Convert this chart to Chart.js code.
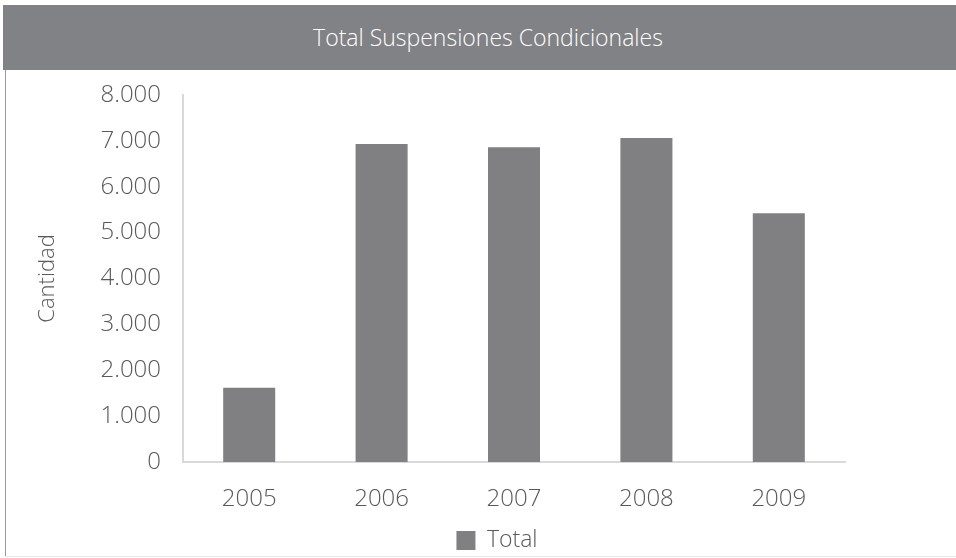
<!DOCTYPE html>
<html>
<head>
<meta charset="utf-8">
<script src="https://cdn.jsdelivr.net/npm/chart.js@4"></script>
<style>
  html, body { margin: 0; padding: 0; background: #fff; }
  body { width: 956px; height: 558px; position: relative; overflow: hidden; font-family: "Open Sans", sans-serif; }
  #titlebar { position: absolute; left: 3px; top: 5px; width: 936px; padding-left: 17px; height: 65px; background: #818285; color: #fff;
    font-family: "Open Sans", sans-serif; font-weight: 300; font-size: 23px; line-height: 64px; text-align: center; }
  #leftborder { position: absolute; left: 5px; top: 70px; width: 1px; height: 487px; background: #9a9a9a; }
  #bottomborder { position: absolute; left: 5px; top: 556px; width: 951px; height: 1px; background: #e6e6e6; }
  #wrap { position: absolute; left: 6px; top: 70px; width: 950px; height: 486px; }
</style>
</head>
<body>
<div id="titlebar">Total Suspensiones Condicionales</div>
<div id="leftborder"></div>
<div id="bottomborder"></div>
<div id="wrap"><canvas id="c"></canvas></div>
<script>
const categories = ["2005", "2006", "2007", "2008", "2009"];
const totalValues = [1620, 6930, 6860, 7060, 5420];
const seriesName = "Total";
const yAxisTitle = "Cantidad";

const fmt = v => v.toLocaleString('de-DE');
const textColor = '#595959';

const legendShift = {
  id: 'legendShift',
  afterLayout(chart) {
    const lg = chart.legend;
    if (!lg) return;
    lg.left += 57; lg.right += 57;
    lg.top += 6; lg.bottom += 6;
  }
};

new Chart(document.getElementById('c'), {
  type: 'bar',
  data: {
    labels: categories,
    datasets: [{
      label: seriesName,
      data: totalValues,
      backgroundColor: '#808083',
      borderWidth: 0,
      categoryPercentage: 1,
      barPercentage: 0.393
    }]
  },
  plugins: [legendShift],
  options: {
    responsive: true,
    maintainAspectRatio: false,
    animation: false,
    layout: { padding: { top: 25, right: 111, left: 29, bottom: 0 } },
    plugins: {
      title: { display: false },
      tooltip: { enabled: false },
      legend: {
        position: 'bottom',
        labels: {
          color: textColor,
          font: { family: 'Open Sans', size: 23, weight: 300 },
          boxWidth: 19,
          boxHeight: 19,
          padding: 3
        }
      }
    },
    scales: {
      x: {
        grid: { display: false, drawTicks: false },
        border: { display: true, color: '#d9d9d9', width: 2 },
        ticks: { color: textColor, font: { family: 'Open Sans', size: 24, weight: 300 }, padding: 23 },
        afterFit: s => { s.height = 58; }
      },
      y: {
        min: 0,
        max: 8000,
        grid: { display: false, drawTicks: false },
        border: { display: true, color: '#d9d9d9', width: 2 },
        ticks: {
          stepSize: 1000,
          color: textColor,
          font: { family: 'Open Sans', size: 24, weight: 300 },
          padding: 22,
          callback: v => fmt(v)
        },
        title: {
          display: true,
          text: yAxisTitle,
          color: textColor,
          font: { family: 'Open Sans', size: 22, weight: 300 },
          padding: { top: 0, bottom: 0 }
        },
        afterFit: s => { s.width = 148; s.paddingTop = 0; s.paddingBottom = 0; }
      }
    }
  }
});
</script>
</body>
</html>
